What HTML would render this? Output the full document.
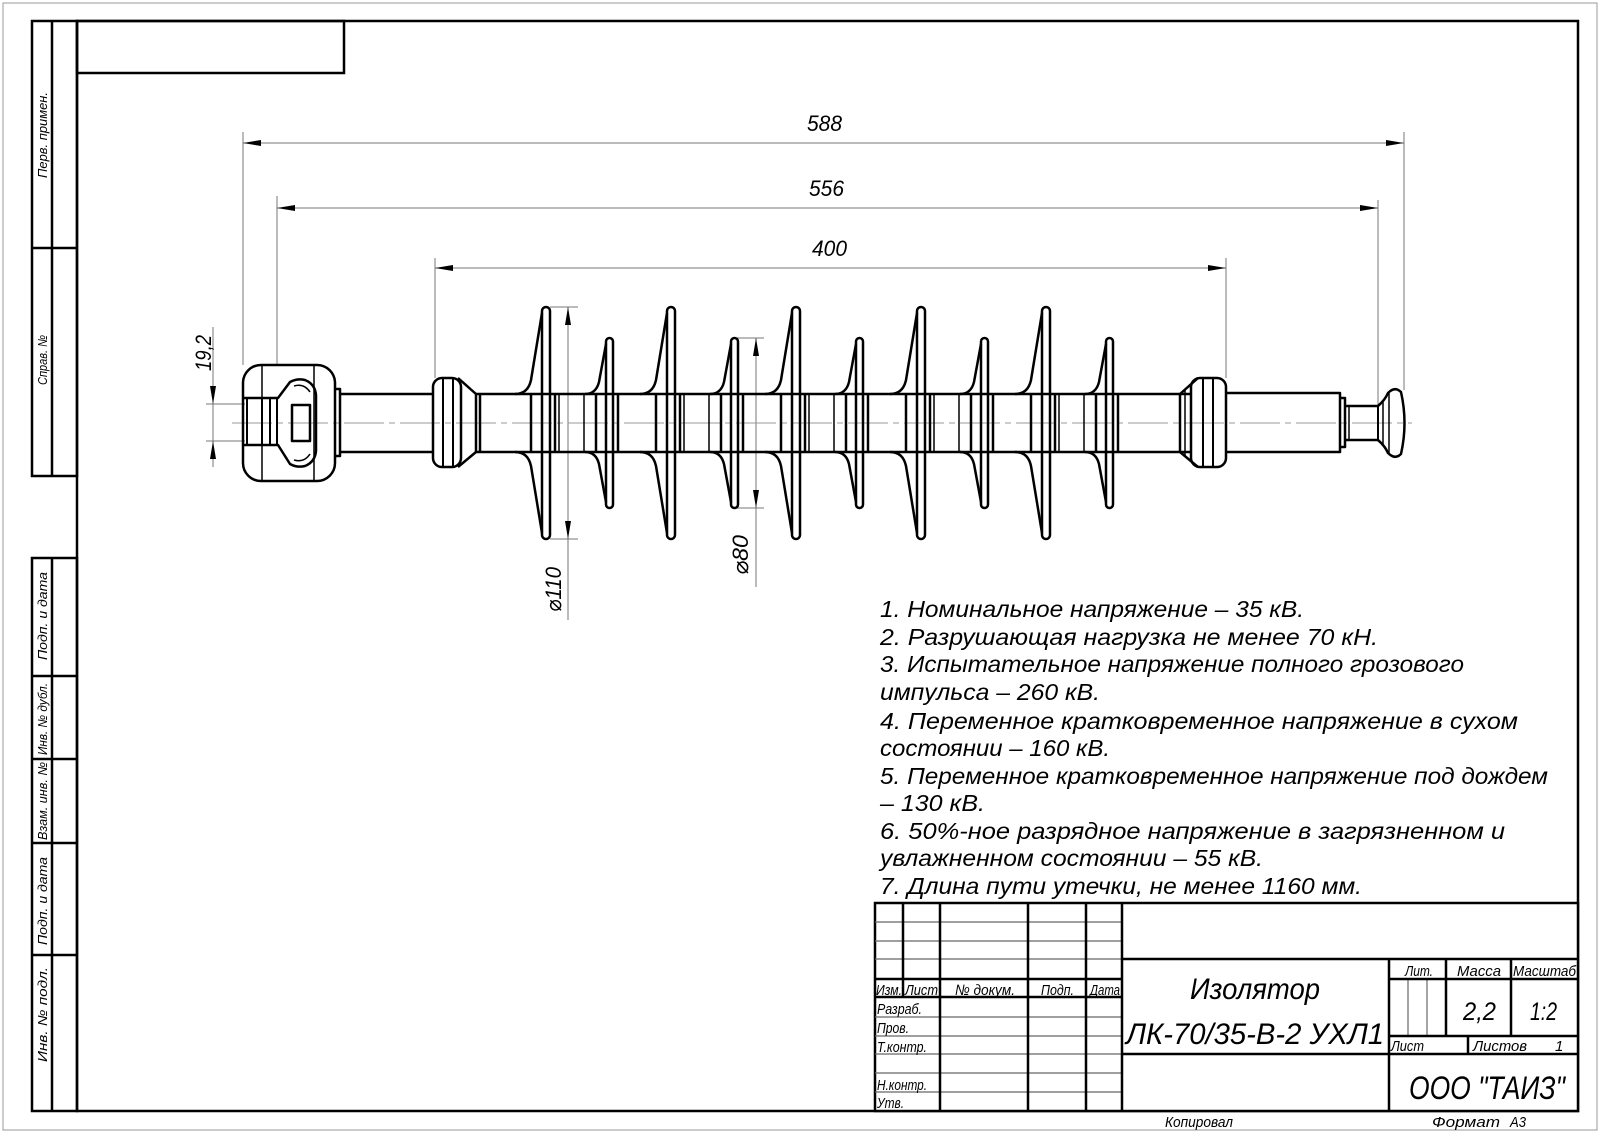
<!DOCTYPE html>
<html><head><meta charset="utf-8"><style>
html,body{margin:0;padding:0;background:#fff}
svg{display:block}
text{font-family:"Liberation Sans","DejaVu Sans",sans-serif;font-style:italic;fill:#000}
</style></head><body>
<svg width="1600" height="1133" viewBox="0 0 1600 1133" xmlns="http://www.w3.org/2000/svg">
<rect x="3" y="3" width="1594" height="1127" fill="none" stroke="#999" stroke-width="1"/>
<g fill="none" stroke="#000" stroke-width="2.5">
<rect x="77" y="21" width="1501" height="1090"/>
<rect x="77" y="21" width="267" height="52"/>
<rect x="32" y="21" width="45" height="455"/>
<line x1="52" y1="21" x2="52" y2="476"/><line x1="32" y1="248" x2="77" y2="248"/>
<rect x="32" y="558" width="45" height="553"/>
<line x1="52" y1="558" x2="52" y2="1111"/>
<line x1="32" y1="676" x2="77" y2="676"/><line x1="32" y1="759" x2="77" y2="759"/>
<line x1="32" y1="843" x2="77" y2="843"/><line x1="32" y1="955" x2="77" y2="955"/>
</g>
<g font-size="13">
<text transform="translate(47,178) rotate(-90)" textLength="86" lengthAdjust="spacingAndGlyphs">Перв. примен.</text>
<text transform="translate(47,385) rotate(-90)" textLength="50" lengthAdjust="spacingAndGlyphs">Справ. №</text>
<text transform="translate(47,660) rotate(-90)" textLength="88" lengthAdjust="spacingAndGlyphs">Подп. и дата</text>
<text transform="translate(47,755) rotate(-90)" textLength="72" lengthAdjust="spacingAndGlyphs">Инв. № дубл.</text>
<text transform="translate(47,840) rotate(-90)" textLength="78" lengthAdjust="spacingAndGlyphs">Взам. инв. №</text>
<text transform="translate(47,945) rotate(-90)" textLength="88" lengthAdjust="spacingAndGlyphs">Подп. и дата</text>
<text transform="translate(47,1062) rotate(-90)" textLength="95" lengthAdjust="spacingAndGlyphs">Инв. № подл.</text>
</g>

<!-- dimensions -->
<g stroke="#777" stroke-width="1" fill="none">
<line x1="243" y1="132" x2="243" y2="365"/><line x1="1404" y1="132" x2="1404" y2="390"/>
<line x1="243" y1="143" x2="1404" y2="143"/>
<line x1="277" y1="196" x2="277" y2="365"/><line x1="1378" y1="200" x2="1378" y2="405"/>
<line x1="277" y1="208" x2="1378" y2="208"/>
<line x1="435" y1="258" x2="435" y2="378"/><line x1="1226" y1="258" x2="1226" y2="378"/>
<line x1="435" y1="268" x2="1226" y2="268"/>
<line x1="550" y1="307" x2="578" y2="307"/><line x1="550" y1="539" x2="578" y2="539"/>
<line x1="568" y1="307" x2="568" y2="620"/>
<line x1="737" y1="338" x2="764" y2="338"/><line x1="737" y1="508" x2="764" y2="508"/>
<line x1="756" y1="338" x2="756" y2="587"/>
<line x1="206" y1="404" x2="245" y2="404"/><line x1="206" y1="441" x2="245" y2="441"/>
<line x1="213" y1="327" x2="213" y2="467"/>
<line x1="232" y1="423" x2="1412" y2="423" stroke="#999" stroke-dasharray="40,5,6,5"/>
</g>
<g fill="#000">
<path d="M243,143 l18,-3 v6z"/><path d="M1404,143 l-18,-3 v6z"/>
<path d="M277,208 l18,-3 v6z"/><path d="M1378,208 l-18,-3 v6z"/>
<path d="M435,268 l18,-3 v6z"/><path d="M1226,268 l-18,-3 v6z"/>
<path d="M568,307 l-3,18 h6z"/><path d="M568,539 l-3,-18 h6z"/>
<path d="M756,338 l-3,18 h6z"/><path d="M756,508 l-3,-18 h6z"/>
<path d="M213,404 l-3,-18 h6z"/><path d="M213,441 l-3,18 h6z"/>
</g>
<g font-size="22">
<text x="807" y="131" textLength="35" lengthAdjust="spacingAndGlyphs">588</text>
<text x="809" y="196" textLength="35" lengthAdjust="spacingAndGlyphs">556</text>
<text x="812" y="256" textLength="35" lengthAdjust="spacingAndGlyphs">400</text>
<text transform="translate(211,371) rotate(-90)" textLength="36" lengthAdjust="spacingAndGlyphs">19,2</text>
<text transform="translate(561,612) rotate(-90)" textLength="45" lengthAdjust="spacingAndGlyphs">⌀110</text>
<text transform="translate(748,575) rotate(-90)" textLength="40" lengthAdjust="spacingAndGlyphs">⌀80</text>
</g>

<!-- insulator -->
<g fill="none" stroke="#000" stroke-width="2.5" stroke-linejoin="round">
<rect x="243" y="365" width="92" height="116" rx="18"/>
<line x1="262" y1="365" x2="262" y2="481" stroke-width="1.5"/>
<line x1="314" y1="365" x2="314" y2="481" stroke-width="1.5"/>
<path d="M243,398 H278 L290,382 Q297,378 305,380 Q315,384 316,395 V451 Q315,462 305,466 Q297,468 290,464 L278,445 H243"/>
<path d="M294,386 Q304,383 310,392 M294,460 Q304,463 310,454" stroke-width="1.5"/>
<line x1="247" y1="398" x2="247" y2="445" stroke-width="2"/>
<line x1="262" y1="398" x2="262" y2="445" stroke-width="2"/>
<line x1="270" y1="398" x2="270" y2="445" stroke-width="2"/>
<line x1="277" y1="398" x2="277" y2="445" stroke-width="2"/>
<rect x="292" y="405" width="18" height="36"/>
<path d="M335,389 H340 V456 H335"/>
<path d="M340,394 H433 M340,452 H433"/>
<rect x="433" y="378" width="28" height="89" rx="9"/>
<line x1="443" y1="378" x2="443" y2="467" stroke-width="2"/>
<line x1="453" y1="378" x2="453" y2="467" stroke-width="2"/>
<path d="M458,378 L476,394 V452 L458,467"/>
<line x1="480" y1="394" x2="480" y2="452"/>
<path d="M476,394 H1190 M476,452 H1190"/>
</g>
<g id="sheds" fill="none" stroke="#000" stroke-width="2.5" stroke-linejoin="round">
<!-- big sheds -->
<g id="big">
<rect x="542" y="307" width="8" height="232" rx="4"/>
<path d="M542,313 L531,380 Q528,394 515,394 M542,533 L531,466 Q528,452 515,452"/>
<line x1="531" y1="394" x2="531" y2="452"/>
<line x1="555" y1="394" x2="555" y2="452"/>
<line x1="559" y1="394" x2="559" y2="452" stroke-width="1.5"/>
</g>
<use href="#big" x="125"/><use href="#big" x="250"/><use href="#big" x="375"/><use href="#big" x="500"/>
<g id="small">
<rect x="606" y="338" width="7" height="170" rx="3.5"/>
<path d="M606,344 L599,382 Q596,394 585,394 M606,502 L599,464 Q596,452 585,452"/>
<line x1="596" y1="394" x2="596" y2="452"/>
<line x1="618" y1="394" x2="618" y2="452"/>
<line x1="584" y1="394" x2="584" y2="452" stroke-width="1.5"/>
</g>
<use href="#small" x="125"/><use href="#small" x="250"/><use href="#small" x="375"/><use href="#small" x="500"/>
<!-- right collar -->
<path d="M1180,394 L1198,378 M1180,452 L1198,467"/>
<line x1="1180" y1="394" x2="1180" y2="452"/>
<line x1="1185" y1="390" x2="1185" y2="456" stroke-width="1.5"/>
<rect x="1191" y="378" width="35" height="89" rx="9"/>
<line x1="1203" y1="378" x2="1203" y2="467" stroke-width="2"/>
<line x1="1213" y1="378" x2="1213" y2="467" stroke-width="2"/>
<path d="M1226,393 H1340 V452 H1226"/>
<path d="M1340,398 H1345 V447 H1340"/>
<path d="M1345,406 H1378 M1345,440 H1378"/>
<line x1="1349" y1="406" x2="1349" y2="440" stroke-width="1.5"/>
<line x1="1378" y1="406" x2="1378" y2="440" stroke-width="2"/>
<path d="M1378,406 Q1385,400 1388,393 Q1395,386 1401,392 Q1408,423 1401,454 Q1395,460 1388,453 Q1385,446 1378,440"/>
<line x1="1383" y1="401" x2="1383" y2="445" stroke-width="1.5"/>
<line x1="1389" y1="393" x2="1389" y2="453" stroke-width="1.5"/>
</g>

<!-- notes -->
<g font-size="23">
<text x="880" y="617" textLength="424" lengthAdjust="spacingAndGlyphs">1. Номинальное напряжение – 35 кВ.</text>
<text x="880" y="645" textLength="498" lengthAdjust="spacingAndGlyphs">2. Разрушающая нагрузка не менее 70 кН.</text>
<text x="880" y="672" textLength="584" lengthAdjust="spacingAndGlyphs">3. Испытательное напряжение полного грозового</text>
<text x="880" y="700" textLength="220" lengthAdjust="spacingAndGlyphs">импульса – 260 кВ.</text>
<text x="880" y="729" textLength="638" lengthAdjust="spacingAndGlyphs">4. Переменное кратковременное напряжение  в сухом</text>
<text x="880" y="756" textLength="230" lengthAdjust="spacingAndGlyphs">состоянии – 160 кВ.</text>
<text x="880" y="784" textLength="668" lengthAdjust="spacingAndGlyphs">5. Переменное кратковременное напряжение под дождем</text>
<text x="880" y="811" textLength="105" lengthAdjust="spacingAndGlyphs">– 130 кВ.</text>
<text x="880" y="839" textLength="625" lengthAdjust="spacingAndGlyphs">6. 50%-ное разрядное напряжение в загрязненном и</text>
<text x="880" y="866" textLength="383" lengthAdjust="spacingAndGlyphs">увлажненном состоянии – 55 кВ.</text>
<text x="880" y="894" textLength="482" lengthAdjust="spacingAndGlyphs">7. Длина пути утечки, не менее 1160 мм.</text>
</g>

<!-- title block -->
<g fill="#fff" stroke="#000" stroke-width="2.5">
<rect x="875" y="903" width="703" height="208"/>
</g>
<g stroke="#666" stroke-width="1.2">
<line x1="875" y1="922" x2="1122" y2="922"/><line x1="875" y1="941" x2="1122" y2="941"/>
<line x1="875" y1="959" x2="1122" y2="959"/>
<line x1="875" y1="1017" x2="1122" y2="1017"/><line x1="875" y1="1036" x2="1122" y2="1036"/>
<line x1="875" y1="1054" x2="1122" y2="1054"/><line x1="875" y1="1073" x2="1122" y2="1073"/>
<line x1="875" y1="1092" x2="1122" y2="1092"/>
<line x1="1408" y1="979" x2="1408" y2="1036"/><line x1="1427" y1="979" x2="1427" y2="1036"/>
</g>
<g stroke="#000" stroke-width="2.5" fill="none">
<line x1="903" y1="903" x2="903" y2="997"/>
<line x1="940" y1="903" x2="940" y2="1111"/>
<line x1="1028" y1="903" x2="1028" y2="1111"/>
<line x1="1086" y1="903" x2="1086" y2="1111"/>
<line x1="1122" y1="903" x2="1122" y2="1111"/>
<line x1="875" y1="979" x2="1122" y2="979"/><line x1="875" y1="997" x2="1122" y2="997"/>
<line x1="1122" y1="959" x2="1578" y2="959"/>
<line x1="1122" y1="1054" x2="1578" y2="1054"/>
<line x1="1389" y1="959" x2="1389" y2="1111"/>
<line x1="1389" y1="979" x2="1578" y2="979"/>
<line x1="1389" y1="1036" x2="1578" y2="1036"/>
<line x1="1446" y1="959" x2="1446" y2="1036"/>
<line x1="1511" y1="959" x2="1511" y2="1036"/>
<line x1="1468" y1="1036" x2="1468" y2="1054"/>
</g>
<g font-size="15">
<text x="876" y="995" textLength="26" lengthAdjust="spacingAndGlyphs">Изм.</text>
<text x="905" y="995" textLength="33" lengthAdjust="spacingAndGlyphs">Лист</text>
<text x="955" y="995" textLength="60" lengthAdjust="spacingAndGlyphs">№ докум.</text>
<text x="1041" y="995" textLength="33" lengthAdjust="spacingAndGlyphs">Подп.</text>
<text x="1090" y="995" textLength="30" lengthAdjust="spacingAndGlyphs">Дата</text>
<text x="877" y="1014" textLength="45" lengthAdjust="spacingAndGlyphs">Разраб.</text>
<text x="877" y="1033" textLength="32" lengthAdjust="spacingAndGlyphs">Пров.</text>
<text x="877" y="1052" textLength="50" lengthAdjust="spacingAndGlyphs">Т.контр.</text>
<text x="877" y="1090" textLength="50" lengthAdjust="spacingAndGlyphs">Н.контр.</text>
<text x="877" y="1108" textLength="27" lengthAdjust="spacingAndGlyphs">Утв.</text>
<text x="1405" y="976" textLength="28" lengthAdjust="spacingAndGlyphs">Лит.</text>
<text x="1457" y="976" textLength="44" lengthAdjust="spacingAndGlyphs">Масса</text>
<text x="1513" y="976" textLength="63" lengthAdjust="spacingAndGlyphs">Масштаб</text>
<text x="1391" y="1051" textLength="33" lengthAdjust="spacingAndGlyphs">Лист</text>
<text x="1473" y="1051" textLength="54" lengthAdjust="spacingAndGlyphs">Листов</text>
<text x="1555" y="1051">1</text>
<text x="1165" y="1127" textLength="68" lengthAdjust="spacingAndGlyphs">Копировал</text>
<text x="1432" y="1127" textLength="68" lengthAdjust="spacingAndGlyphs">Формат</text>
<text x="1510" y="1127" textLength="16" lengthAdjust="spacingAndGlyphs">А3</text>
</g>
<g font-size="30">
<text x="1190" y="999" textLength="130" lengthAdjust="spacingAndGlyphs">Изолятор</text>
<text x="1126" y="1044" textLength="258" lengthAdjust="spacingAndGlyphs">ЛК-70/35-В-2 УХЛ1</text>
<text x="1463" y="1020" font-size="25" textLength="33" lengthAdjust="spacingAndGlyphs">2,2</text>
<text x="1530" y="1020" font-size="25" textLength="27" lengthAdjust="spacingAndGlyphs">1:2</text>
<text x="1409" y="1099" font-size="32" textLength="156" lengthAdjust="spacingAndGlyphs">ООО "ТАИЗ"</text>
</g>
</svg>
</body></html>
